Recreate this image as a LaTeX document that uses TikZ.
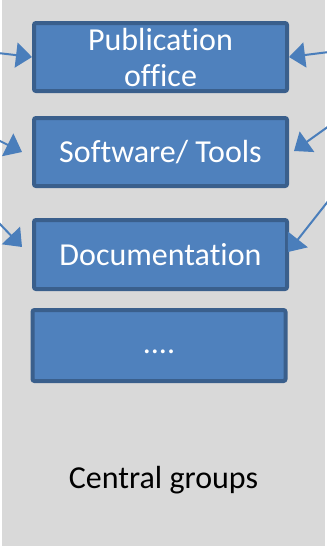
\documentclass[tikz,border=0pt]{standalone}
\usepackage{fontspec}
\setmainfont[Ligatures=NoCommon]{Carlito}
\usetikzlibrary{arrows.meta}
\definecolor{panelgray}{HTML}{D9D9D9}
\definecolor{boxfill}{HTML}{4F81BD}
\definecolor{boxline}{HTML}{3A5F8C}
\definecolor{arrowblue}{HTML}{4A7EBB}
\tikzset{
  groupbox/.style={draw=boxline, fill=boxfill, line width=4pt, rounded corners=2pt,
    minimum width=253pt, inner sep=0pt, text=white, font=\fontsize{32}{36}\selectfont,
    align=center},
  feed/.style={draw=arrowblue, line width=2pt,
    -{Triangle[length=16pt,width=25pt]}},
}
\begin{document}
\begin{tikzpicture}[x=1pt,y=-1pt]
\useasboundingbox (0,0) rectangle (327,547);
\fill[panelgray] (2,0) rectangle (325,546);
\node[groupbox, minimum height=68pt] (pub) at (160.5,57) {Publication\\office};
\node[groupbox, minimum height=68pt] (soft) at (160.5,152) {Software/ Tools};
\node[groupbox, minimum height=69pt] (doc) at (160.5,254.5) {Documentation};
\node[groupbox, minimum height=71pt] (more) at (159,345.5) {\raisebox{-8pt}[0pt][0pt]{....}};
\node[font=\fontsize{32}{36}\selectfont, text=black] (central) at (163.5,480) {Central groups};
% free ends
\coordinate (l1) at (-2,53);
\coordinate (l2) at (-2,140);
\coordinate (l3) at (-2,222);
\coordinate (r1) at (329,52);
\coordinate (r2) at (329,126);
\coordinate (r3) at (329,200);
\coordinate (l2e) at (22,152);
\coordinate (l3e) at (22,247);
\coordinate (r2e) at (294,151);
\coordinate (r3e) at (288,252);
\draw[feed] (l1) -- (pub.west);
\draw[feed] (r1) -- (pub.east);
\draw[feed] (l2) -- (l2e);
\draw[feed] (l3) -- (l3e);
\draw[feed] (r2) -- (r2e);
\draw[feed] (r3) -- (r3e);
\end{tikzpicture}
\end{document}
